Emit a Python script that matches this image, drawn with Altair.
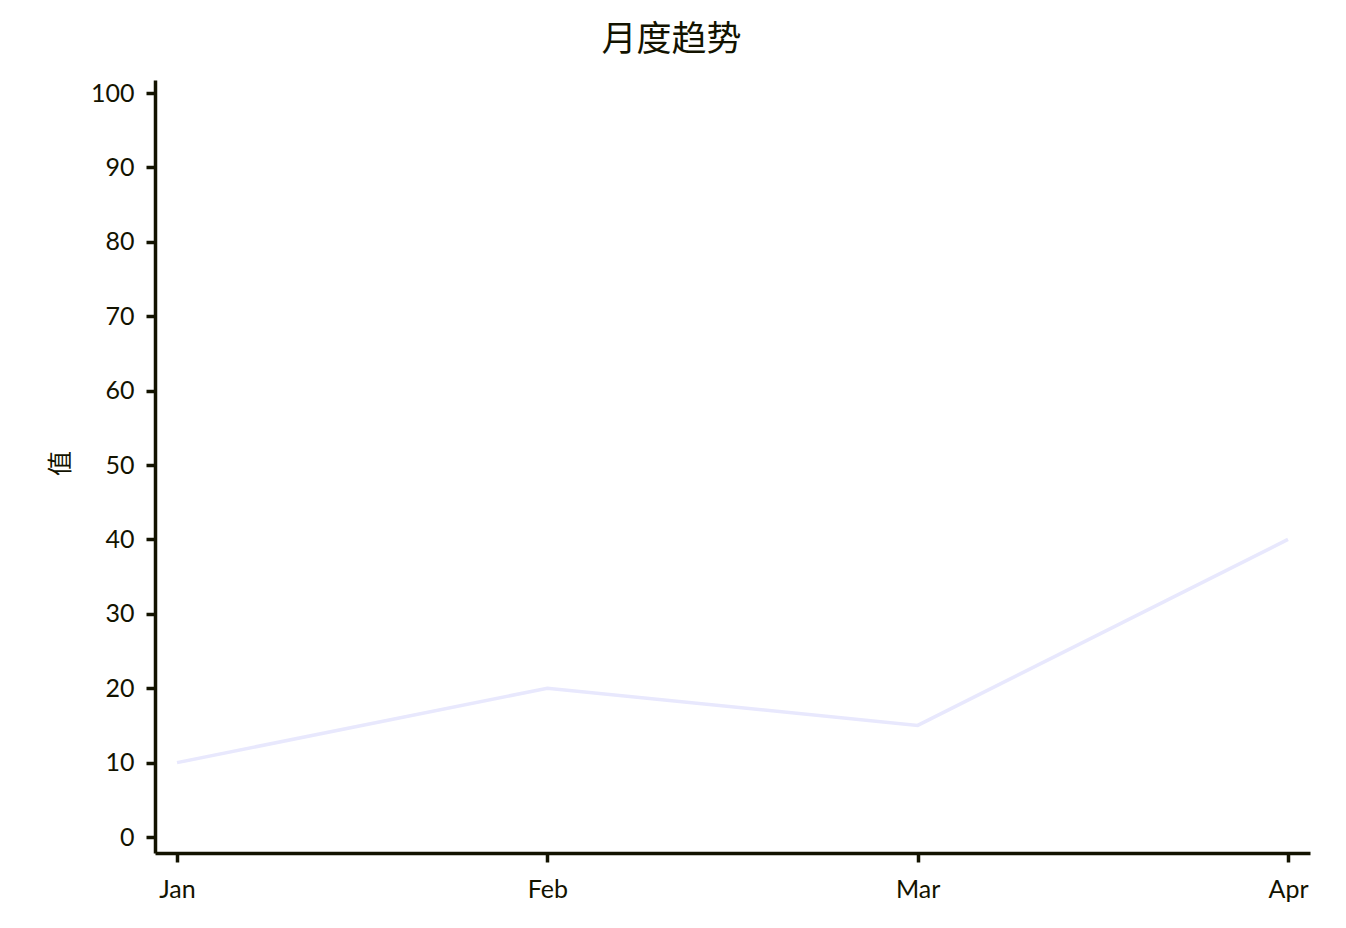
import altair as alt
import pandas as pd

months = ["Jan", "Feb", "Mar", "Apr"]
values = [10, 20, 15, 40]
y_ticks = [0, 10, 20, 30, 40, 50, 60, 70, 80, 90, 100]

df = pd.DataFrame({"month": months, "value": values})

FONT = "Lato"
AXIS_COLOR = "#131300"

W = 1155
H = 773

chart = (
    alt.Chart(df)
    .mark_line(color="#E8E8FD", strokeWidth=3.5)
    .encode(
        x=alt.X(
            "month:N",
            sort=months,
            scale=alt.Scale(type="point", padding=0.0594),
            axis=alt.Axis(
                title=None,
                labelAngle=0,
                labelFontSize=25,
                labelPadding=15,
                tickSize=9,
                tickWidth=3.5,
                domainWidth=3.5,
                grid=False,
            ),
        ),
        y=alt.Y(
            "value:Q",
            scale=alt.Scale(domain=[-2.15, 101.75], nice=False, zero=False),
            axis=alt.Axis(
                title="值",
                values=y_ticks,
                titleFontSize=25,
                titleFontWeight="normal",
                titleAngle=-90,
                titleX=-95,
                titleY=383,
                titleAlign="center",
                titleBaseline="middle",
                labelFontSize=25,
                labelPadding=12,
                tickSize=9,
                tickWidth=3.5,
                domainWidth=3.5,
                grid=False,
            ),
        ),
    )
    .properties(
        width=W,
        height=H,
        title=alt.TitleParams(
            "月度趋势",
            fontSize=35,
            fontWeight="normal",
            anchor="middle",
            dx=-61,
            offset=22,
            color=AXIS_COLOR,
            font="Noto Sans CJK SC",
        ),
        autosize=alt.AutoSizeParams(type="none"),
        padding={"left": 147, "top": 72, "right": 28, "bottom": 60},
    )
    .configure(background="white")
    .configure_view(stroke=None)
    .configure_axis(
        domainColor=AXIS_COLOR,
        tickColor=AXIS_COLOR,
        labelColor=AXIS_COLOR,
        titleColor=AXIS_COLOR,
        labelFont=FONT,
        titleFont="Noto Sans CJK SC",
    )
)

chart.save("out.html", embed_options={"renderer": "svg", "actions": False})
